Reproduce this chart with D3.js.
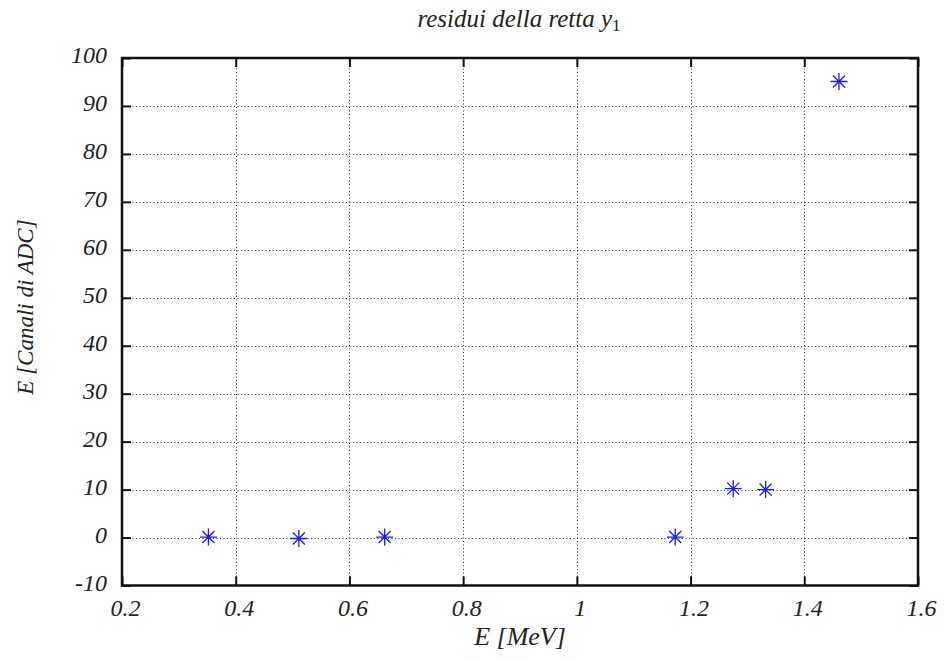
<!DOCTYPE html>
<html>
<head>
<meta charset="utf-8">
<script src="https://cdn.jsdelivr.net/npm/d3@7"></script>
<style>
  html, body { margin: 0; padding: 0; background: #fff; }
</style>
</head>
<body>
<svg id="chart" width="944" height="661"></svg>
<script>
// Energy (MeV) of calibration lines and residuals of the linear fit (ADC channels)
const energies  = [0.352, 0.511, 0.662, 1.173, 1.275, 1.332, 1.461];
const residuals = [0.1, -0.2, 0.1, 0.1, 10.2, 10.0, 95.1];
const xTicks = [0.2, 0.4, 0.6, 0.8, 1, 1.2, 1.4, 1.6];
const yTicks = [-10, 0, 10, 20, 30, 40, 50, 60, 70, 80, 90, 100];

const SERIF = '"Liberation Serif"';
const svg = d3.select("#chart");
const m = { left: 122, right: 918, top: 58, bottom: 585.5 };

const x = d3.scaleLinear().domain([0.2, 1.6]).range([m.left, m.right]);
const y = d3.scaleLinear().domain([-10, 100]).range([m.bottom, m.top]);

// dotted grid
const grid = svg.append("g").attr("stroke", "#333").attr("stroke-width", 1)
  .attr("stroke-dasharray", "1,2.5");
grid.selectAll(".gx").data(xTicks.slice(1, -1)).join("line")
  .attr("x1", d => Math.round(x(d)) + 0.5).attr("x2", d => Math.round(x(d)) + 0.5)
  .attr("y1", m.top).attr("y2", m.bottom);
grid.selectAll(".gy").data(yTicks.slice(1, -1)).join("line")
  .attr("y1", d => Math.round(y(d)) + 0.5).attr("y2", d => Math.round(y(d)) + 0.5)
  .attr("x1", m.left).attr("x2", m.right);

// axes with inward ticks on all four sides
const fmt = d => String(d);
const tickLen = 9;
const axB = svg.append("g").attr("transform", `translate(0,${m.bottom})`)
  .call(d3.axisBottom(x).tickValues(xTicks).tickFormat(fmt).tickSizeInner(-tickLen).tickSizeOuter(0).tickPadding(13.5));
const axT = svg.append("g").attr("transform", `translate(0,${m.top})`)
  .call(d3.axisTop(x).tickValues(xTicks).tickFormat("").tickSizeInner(-tickLen).tickSizeOuter(0));
const axL = svg.append("g").attr("transform", `translate(${m.left},0)`)
  .call(d3.axisLeft(y).tickValues(yTicks).tickFormat(fmt).tickSizeInner(-tickLen).tickSizeOuter(0).tickPadding(15));
const axR = svg.append("g").attr("transform", `translate(${m.right},0)`)
  .call(d3.axisRight(y).tickValues(yTicks).tickFormat("").tickSizeInner(-tickLen).tickSizeOuter(0));

[axB, axT, axL, axR].forEach(a => {
  a.select(".domain").remove();
  a.attr("font-family", null).attr("font-size", null);
  a.selectAll(".tick line").attr("stroke", "#111").attr("stroke-width", 2);
  a.selectAll("text").attr("fill", "#222")
    .style("font-family", SERIF).style("font-style", "italic").style("font-size", "24px");
});
axB.selectAll("text").attr("dx", 3);
axL.selectAll("text").attr("dy", "0.2em");

// frame
svg.append("rect").attr("x", m.left).attr("y", m.top)
  .attr("width", m.right - m.left).attr("height", m.bottom - m.top)
  .attr("fill", "none").attr("stroke", "#111").attr("stroke-width", 2.5);

// asterisk markers
const r = 8.5, d45 = r * Math.SQRT1_2;
const star = `M${-r},0L${r},0M0,${-r}L0,${r}M${-d45},${-d45}L${d45},${d45}M${-d45},${d45}L${d45},${-d45}`;
svg.append("g").selectAll("path").data(energies).join("path")
  .attr("transform", (e, i) => `translate(${x(e)},${y(residuals[i])})`)
  .attr("d", star).attr("fill", "none").attr("stroke", "#1a1aff").attr("stroke-width", 1.3);

// titles
const txt = sel => sel.attr("fill", "#222").style("font-family", SERIF).style("font-style", "italic");

const title = svg.append("text").attr("x", 519).attr("y", 27).attr("text-anchor", "middle")
  .call(txt).style("font-size", "25px");
title.append("tspan").text("residui della retta ");
title.append("tspan").text("y");
title.append("tspan").text("1").style("font-style", "normal").style("font-size", "17px").attr("dy", 4);

svg.append("text").attr("x", 520).attr("y", 645).attr("text-anchor", "middle")
  .call(txt).style("font-size", "26px").text("E [MeV]");

svg.append("text").attr("transform", `translate(33,307) rotate(-90)`)
  .attr("text-anchor", "middle").call(txt).style("font-size", "23px").text("E [Canali di ADC]");
</script>
</body>
</html>
